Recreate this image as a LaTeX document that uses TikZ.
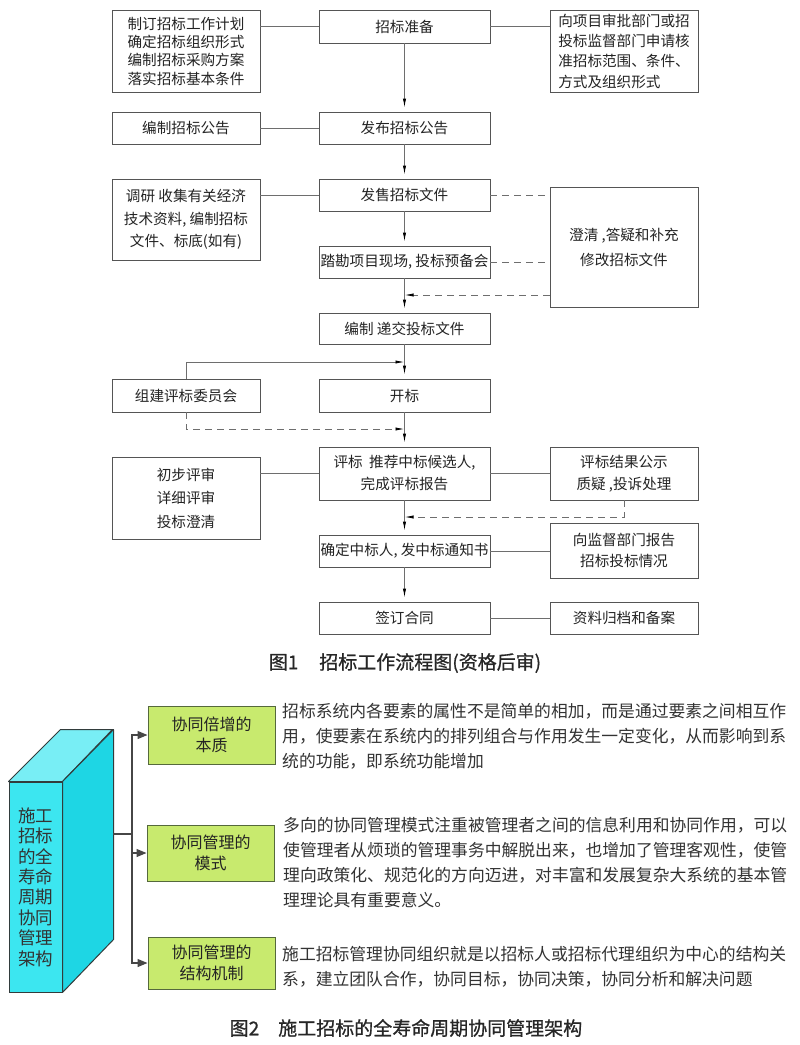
\documentclass[tikz,border=0pt]{standalone}
\usepackage{fontspec}
\setmainfont{Noto Sans CJK SC}
\newfontfamily\capfont[FakeBold=0.8]{Noto Sans CJK SC}
\usetikzlibrary{arrows.meta,calc}
\definecolor{boxc}{RGB}{85,85,85}
\definecolor{linec}{RGB}{110,110,110}
\definecolor{txtc}{RGB}{35,35,35}
\definecolor{cubefront}{RGB}{60,230,240}
\definecolor{cubeside}{RGB}{30,214,228}
\definecolor{cubetop}{RGB}{120,238,245}
\definecolor{cubeedge}{RGB}{50,60,60}
\definecolor{greenfill}{RGB}{200,234,110}
\definecolor{greenedge}{RGB}{85,105,60}
\definecolor{arrc}{RGB}{70,70,70}
\begin{document}
\begin{tikzpicture}[x=1pt,y=-1pt,
  fbox/.style={draw=boxc, line width=0.8pt, inner sep=0pt, align=center, text=txtc,
    font=\fontsize{14.6pt}{22pt}\selectfont},
  cbox/.style={fbox, minimum width=171pt, minimum height=33pt},
  sbox/.style={fbox, minimum width=148pt, minimum height=33pt},
  link/.style={draw=linec, line width=0.8pt},
  dlink/.style={link, dash pattern=on 7pt off 5pt},
  flow/.style={link, -{Latex[length=9pt,width=3.2pt,color=black]}, shorten >=4pt},
  tip/.style={-{Latex[length=9pt,width=3.2pt,color=black]}},
  gbox/.style={draw=greenedge, line width=1pt, fill=greenfill, inner sep=0pt, align=center,
    text=txtc, minimum width=127pt, font=\fontsize{16pt}{20.5pt}\selectfont},
  para/.style={inner sep=0pt, align=left, anchor=north west, text=black!80,
    font=\fontsize{16.8pt}{25pt}\selectfont},
  arr2/.style={draw=arrc, line width=1.2pt, -{Triangle[length=10pt,width=8pt]}},
  captext/.style={inner sep=0pt, font=\capfont\fontsize{19pt}{22pt}\selectfont, text=black!85}
]
\path[use as bounding box, fill=white] (0,0) rectangle (800,1045);

% ---------- Figure 1 ----------
\node[cbox] (zb) at (404.5,26.5) {招标准备};
\node[sbox, minimum height=82pt, font=\fontsize{14.6pt}{18.3pt}\selectfont] (l1) at (186,51)
  {制订招标工作计划\\确定招标组织形式\\编制招标采购方案\\落实招标基本条件};
\node[sbox, minimum height=82pt, align=left, font=\fontsize{14.6pt}{20.3pt}\selectfont] (r1) at (624,51)
  {向项目审批部门或招\\投标监督部门申请核\\准招标范围、条件、\\方式及组织形式};

\node[sbox, minimum height=32pt] (l2) at (186,128) {编制招标公告};
\node[cbox, minimum height=32pt] (fb) at (404.5,128) {发布招标公告};

\node[cbox, minimum height=32pt] (fs) at (404.5,195) {发售招标文件};
\node[sbox, minimum height=81pt, font=\fontsize{14.6pt}{22.5pt}\selectfont] (l3) at (186,219.5)
  {调研 收集有关经济\\技术资料, 编制招标\\文件、标底(如有)};
\node[sbox, minimum height=120pt, font=\fontsize{14.6pt}{25pt}\selectfont] (cq) at (624,247)
  {澄清 ,答疑和补充\\修改招标文件};
\node[cbox, minimum height=32pt] (tk) at (404.5,262) {踏勘项目现场, 投标预备会};

\node[cbox, minimum height=31pt] (bj) at (404.5,328.5) {编制 递交投标文件};

\node[sbox] (zj) at (186,395.5) {组建评标委员会};
\node[cbox] (kb) at (404.5,395.5) {开标};

\node[sbox, minimum height=82pt, font=\fontsize{14.6pt}{23.5pt}\selectfont] (cb) at (186,498)
  {初步评审\\详细评审\\投标澄清};
\node[cbox, minimum height=53pt] (pb) at (404.5,473.5) {评标 \ 推荐中标候选人,\\完成评标报告};
\node[sbox, minimum height=53pt] (jg) at (624,473.5) {评标结果公示\\质疑 ,投诉处理};

\node[cbox, minimum height=32pt] (qd) at (404.5,551) {确定中标人, 发中标通知书};
\node[sbox, minimum height=55pt, font=\fontsize{14.6pt}{21pt}\selectfont] (jd) at (624,550.5)
  {向监督部门报告\\招标投标情况};

\node[cbox, minimum height=32pt] (qy) at (404.5,618) {签订合同};
\node[sbox, minimum height=32pt] (zl) at (624,618) {资料归档和备案};

\node[captext] (cap1) at (405,663) {图1\hspace{1.1em}招标工作流程图(资格后审)};

% helper coordinates on the main line
\coordinate (c1) at (404.5,295);
\coordinate (c2) at (404.5,362);
\coordinate (c3) at (404.5,429);
\coordinate (c4) at (404.5,517);

% side links
\draw[link] (zb.west) -- (zb.west -| l1.east);
\draw[link] (zb.east) -- (zb.east -| r1.west);
\draw[link] (fb.west) -- (l2.east);
\draw[link] (fs.west) -- (fs.west -| l3.east);
\draw[dlink] (fs.east) -- (fs.east -| cq.west);
\draw[dlink] (tk.east) -- (tk.east -| cq.west);
\draw[dlink, tip] (c1 -| cq.west) -- (c1);
\draw[link] (cb.east |- pb.west) -- (pb.west);
\draw[link] (pb.east) -- (jg.west);
\draw[dlink, tip] (jg.south) |- (c4);
\draw[link] (qd.east) -- (qd.east -| jd.west);
\draw[link] (qy.east) -- (zl.west);
\draw[link, tip] (zj.north) |- (c2);
\draw[dlink, tip] (zj.south) |- (c3);

% main flow
\draw[flow] (zb) -- (fb);
\draw[flow] (fb) -- (fs);
\draw[flow] (fs) -- (tk);
\draw[flow] (tk) -- (bj);
\draw[flow] (bj) -- (kb);
\draw[flow] (kb) -- (pb);
\draw[flow] (pb) -- (qd);
\draw[flow] (qd) -- (qy);

% ---------- Figure 2 ----------
\node[draw=cubeedge, line width=1pt, fill=cubefront, inner sep=0pt, minimum width=53pt,
  minimum height=210pt, align=center, text=black!80,
  font=\fontsize{17.5pt}{20.4pt}\selectfont] (cube) at (35.5,887)
  {施工\\招标\\的全\\寿命\\周期\\协同\\管理\\架构};
\draw[draw=cubeedge, line width=1pt, fill=cubetop, line join=round]
  (cube.north west) -- ++(52,-52) -- ++(52,0) -- (cube.north east) -- cycle;
\draw[draw=cubeedge, line width=1pt, fill=cubeside, line join=round]
  (cube.north east) -- ++(51,-52) -- ++(0,210) -- (cube.south east) -- cycle;

\node[gbox, minimum height=58pt] (g1) at (211.5,735) {协同倍增的\\本质};
\node[gbox, minimum height=56pt] (g2) at (210.5,853) {协同管理的\\模式};
\node[gbox, minimum height=52pt] (g3) at (211.5,963) {协同管理的\\结构机制};

\coordinate (sidept) at (113,834);
\coordinate (hub) at (132,834);
\draw[draw=arrc, line width=1.2pt] (sidept) -- (hub);
\draw[arr2] (hub) |- (g1.west);
\draw[arr2] (hub) |- (g2.west);
\draw[arr2] (hub) |- (g3.west);

\node[para] (p1) at (282,703.3)
  {招标系统内各要素的属性不是简单的相加，而是通过要素之间相互作\\
   用，使要素在系统内的排列组合与作用发生一定变化，从而影响到系\\
   统的功能，即系统功能增加};
\node[para] (p2) at (283,816.6)
  {多向的协同管理模式注重被管理者之间的信息利用和协同作用，可以\\
   使管理者从烦琐的管理事务中解脱出来，也增加了管理客观性，使管\\
   理向政策化、规范化的方向迈进，对丰富和发展复杂大系统的基本管\\
   理理论具有重要意义。};
\node[para] (p3) at (282,946.6)
  {施工招标管理协同组织就是以招标人或招标代理组织为中心的结构关\\
   系，建立团队合作，协同目标，协同决策，协同分析和解决问题};

\node[captext] (cap2) at (406,1028) {图2\hspace{1em}施工招标的全寿命周期协同管理架构};
\end{tikzpicture}
\end{document}
